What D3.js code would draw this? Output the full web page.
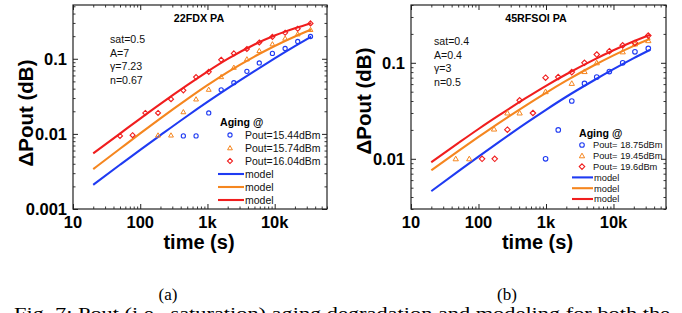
<!DOCTYPE html>
<html>
<head>
<meta charset="utf-8">
<script src="https://cdn.jsdelivr.net/npm/d3@7"></script>
<style>
  html, body { margin: 0; padding: 0; background: #fff; }
  svg { display: block; font-family: "Liberation Sans", Arial, sans-serif; }
</style>
</head>
<body>
<svg id="chart" width="682" height="313"></svg>
<script>
// ---------- Data ----------
const modelTime = [20, 50, 100, 200, 500, 1000, 2000, 5000, 10000, 20000, 35000];

// Panel (a) 22FDX PA
const aTimeBlue   = [438, 677, 1045, 1600, 2470, 3860, 5900, 9250, 14300, 22000, 34100];
const aBlue       = [0.0094, 0.0094, 0.019, 0.0386, 0.048, 0.068, 0.088, 0.118, 0.137, 0.17, 0.198];
const aTimeOrange = [184, 287, 438, 677, 1045, 1600, 2470, 3860, 5900, 9250, 14300, 22000, 34100];
const aOrange     = [0.0096, 0.0096, 0.0196, 0.029, 0.039, 0.0575, 0.0766, 0.099, 0.128, 0.157, 0.187, 0.213, 0.244];
const aTimeRed    = [50, 77, 119, 184, 287, 438, 677, 1045, 1600, 2470, 3860, 5900, 9250, 14300, 22000, 34100];
const aRed        = [0.0094, 0.0096, 0.019, 0.019, 0.029, 0.038, 0.057, 0.067, 0.097, 0.118, 0.135, 0.165, 0.196, 0.222, 0.251, 0.296];
const aModelBlue   = [0.0021, 0.00388, 0.00614, 0.00962, 0.0173, 0.0266, 0.0403, 0.0685, 0.101, 0.147, 0.197];
const aModelOrange = [0.0034, 0.00634, 0.01015, 0.0161, 0.029, 0.0445, 0.0665, 0.107, 0.148, 0.198, 0.245];
const aModelRed    = [0.0055, 0.0101, 0.016, 0.0251, 0.0445, 0.0675, 0.0995, 0.155, 0.204, 0.255, 0.298];
const aLegend = ["Pout=15.44dBm", "Pout=15.74dBm", "Pout=16.04dBm"];
const aParams = ["sat=0.5", "A=7", "\u03B3=7.23", "n=0.67"];

// Panel (b) 45RFSOI PA
const bTimeBlue   = [986, 1520, 2410, 3720, 5650, 8690, 13700, 20800, 32800];
const bBlue       = [0.01, 0.02, 0.04, 0.061, 0.071, 0.081, 0.1, 0.13, 0.141];
const bTimeOrange = [46, 73, 170, 268, 407, 986, 2410, 3720, 5650, 13700, 20800, 32800];
const bOrange     = [0.01, 0.01, 0.0204, 0.030, 0.030, 0.05, 0.061, 0.081, 0.1, 0.13, 0.157, 0.17];
const bTimeRed    = [113, 174, 268, 407, 640, 986, 1520, 2410, 3720, 5650, 8690, 13700, 20800, 32800];
const bRed        = [0.01, 0.01, 0.0201, 0.0407, 0.03, 0.07, 0.071, 0.08, 0.1, 0.122, 0.132, 0.152, 0.161, 0.192];
const bModelBlue   = [0.0046, 0.00741, 0.01055, 0.01493, 0.0234, 0.0324, 0.0443, 0.065, 0.0858, 0.1117, 0.1366];
const bModelOrange = [0.0076, 0.01202, 0.01689, 0.02355, 0.0359, 0.0487, 0.0651, 0.0931, 0.1195, 0.1502, 0.1777];
const bModelRed    = [0.0092, 0.01455, 0.02044, 0.0283, 0.0428, 0.0576, 0.076, 0.1067, 0.135, 0.1675, 0.1958];
const bLegend = ["Pout= 18.75dBm", "Pout= 19.45dBm", "Pout= 19.6dBm"];
const bParams = ["sat=0.4", "A=0.4", "\u03B3=3", "n=0.5"];

const xTickValues = [10, 100, 1000, 10000];
const xTickLabels = ["10", "100", "1k", "10k"];
const aYTickValues = [0.001, 0.01, 0.1];
const aYTickLabels = ["0.001", "0.01", "0.1"];
const bYTickValues = [0.01, 0.1];
const bYTickLabels = ["0.01", "0.1"];

const COLORS = { blue: "#1f3bf2", orange: "#f5861f", red: "#f01e1e" };

// ---------- Drawing ----------
const svg = d3.select("#chart");
svg.append("rect").attr("width", 682).attr("height", 313).attr("fill", "#fff");

function minorTicks(domain) {
  const out = [];
  const lo = Math.floor(Math.log10(domain[0])), hi = Math.ceil(Math.log10(domain[1]));
  for (let e = lo; e <= hi; e++) {
    for (let m = 1; m <= 9; m++) {
      const v = m * Math.pow(10, e);
      if (v >= domain[0] * 0.999 && v <= domain[1] * 1.001) out.push(v);
    }
  }
  return out;
}

function symbol(g, type, x, y, color, s) {
  if (type === "circle") {
    g.append("circle").attr("cx", x).attr("cy", y).attr("r", s)
      .attr("fill", "none").attr("stroke", color).attr("stroke-width", 1.1);
  } else if (type === "triangle") {
    const h = s * 1.15;
    g.append("path").attr("d", `M${x},${y - h}L${x + h},${y + h * 0.75}L${x - h},${y + h * 0.75}Z`)
      .attr("fill", "none").attr("stroke", color).attr("stroke-width", 1.0);
  } else {
    const h = s * 1.2;
    g.append("path").attr("d", `M${x},${y - h}L${x + h},${y}L${x},${y + h}L${x - h},${y}Z`)
      .attr("fill", "none").attr("stroke", color).attr("stroke-width", 1.1);
  }
}

function panel(cfg) {
  const g = svg.append("g");
  const x = d3.scaleLog().domain(cfg.xDomain).range([cfg.left, cfg.right]);
  const y = d3.scaleLog().domain(cfg.yDomain).range([cfg.bottom, cfg.top]);
  const W = cfg.right - cfg.left, H = cfg.bottom - cfg.top;

  // minor ticks
  const xMinor = minorTicks(cfg.xDomain).filter(v => !xTickValues.includes(v));
  const yMinor = minorTicks(cfg.yDomain).filter(v => !cfg.yTickValues.includes(v));
  const axes = [
    [d3.axisBottom(x), `translate(0,${cfg.bottom})`, xMinor],
    [d3.axisTop(x), `translate(0,${cfg.top})`, xMinor],
    [d3.axisLeft(y), `translate(${cfg.left},0)`, yMinor],
    [d3.axisRight(y), `translate(${cfg.right},0)`, yMinor]
  ];
  axes.forEach(([ax, tr, minor]) => {
    const a1 = g.append("g").attr("transform", tr)
      .call(ax.tickValues(minor).tickSize(-2.5).tickFormat(""));
    a1.select(".domain").remove();
    a1.selectAll("line").attr("stroke", "#222").attr("stroke-width", 0.9);
  });
  const majorDefs = [
    [d3.axisBottom(x), `translate(0,${cfg.bottom})`, xTickValues],
    [d3.axisTop(x), `translate(0,${cfg.top})`, xTickValues],
    [d3.axisLeft(y), `translate(${cfg.left},0)`, cfg.yTickValues],
    [d3.axisRight(y), `translate(${cfg.right},0)`, cfg.yTickValues]
  ];
  majorDefs.forEach(([ax, tr, major]) => {
    const a = g.append("g").attr("transform", tr)
      .call(ax.tickValues(major).tickSize(-5).tickFormat(""));
    a.select(".domain").remove();
    a.selectAll("line").attr("stroke", "#222").attr("stroke-width", 1);
  });

  // tick labels
  g.selectAll(".xl").data(xTickValues).enter().append("text")
    .attr("x", d => x(d)).attr("y", cfg.bottom + 18.5)
    .attr("text-anchor", "middle").attr("font-size", 16.5).attr("font-weight", "bold")
    .text((d, i) => xTickLabels[i]);
  g.selectAll(".yl").data(cfg.yTickValues).enter().append("text")
    .attr("x", cfg.left - 6).attr("y", d => y(d) + 6)
    .attr("text-anchor", "end").attr("font-size", 16.5).attr("font-weight", "bold")
    .text((d, i) => cfg.yTickLabels[i]);

  // frame
  g.append("rect").attr("x", cfg.left).attr("y", cfg.top).attr("width", W).attr("height", H)
    .attr("fill", "none").attr("stroke", "#222").attr("stroke-width", 1.2);

  // axis titles
  g.append("text").attr("x", (cfg.left + cfg.right) / 2 - 1).attr("y", cfg.bottom + 40)
    .attr("text-anchor", "middle").attr("font-size", 20).attr("font-weight", "bold")
    .text("time (s)");
  g.append("text")
    .attr("transform", `translate(${cfg.yTitleX},${cfg.yTitleY}) rotate(-90)`)
    .attr("text-anchor", "middle").attr("font-size", 20.5).attr("font-weight", "bold")
    .text("\u0394Pout (dB)");

  // chart title
  g.append("text").attr("x", cfg.titleX).attr("y", cfg.top + 17)
    .attr("text-anchor", "middle").attr("font-size", 10.7).attr("font-weight", "bold")
    .text(cfg.title);

  // parameters
  cfg.params.forEach((p, i) => {
    g.append("text").attr("x", cfg.paramX).attr("y", cfg.paramY + i * 13.7)
      .attr("font-size", 10.6).attr("fill", "#111").text(p);
  });

  // model lines
  const line = d3.line().x(d => x(d[0])).y(d => y(d[1])).curve(d3.curveMonotoneX);
  const models = [[cfg.modelBlue, COLORS.blue], [cfg.modelOrange, COLORS.orange], [cfg.modelRed, COLORS.red]];
  models.forEach(([vals, c]) => {
    g.append("path").datum(modelTime.map((t, i) => [t, vals[i]]))
      .attr("d", line).attr("fill", "none").attr("stroke", c).attr("stroke-width", 2.1);
  });

  // data points
  const series = [
    [cfg.tBlue, cfg.vBlue, COLORS.blue, "circle"],
    [cfg.tOrange, cfg.vOrange, COLORS.orange, "triangle"],
    [cfg.tRed, cfg.vRed, COLORS.red, "diamond"]
  ];
  series.forEach(([ts, vs, c, type]) => {
    ts.forEach((t, i) => symbol(g, type, x(t), y(vs[i]), c, cfg.markerSize));
  });

  // legend
  const L = cfg.legend;
  g.append("text").attr("x", L.x).attr("y", L.y).attr("font-size", 10.6)
    .attr("font-weight", "bold").text("Aging @");
  const types = ["circle", "triangle", "diamond"];
  const cols = [COLORS.blue, COLORS.orange, COLORS.red];
  cfg.legendLabels.forEach((lab, i) => {
    const yy = L.y + L.dy0 + i * L.dy;
    symbol(g, types[i], L.symX, yy, cols[i], cfg.markerSize);
    g.append("text").attr("x", L.textX).attr("y", yy + L.fs * 0.36)
      .attr("font-size", L.fs).attr("fill", "#111").text(lab);
  });
  cols.forEach((c, i) => {
    const yy = L.y + L.dy0 + (3 + i) * L.dy;
    g.append("line").attr("x1", L.lineX1).attr("x2", L.lineX2).attr("y1", yy).attr("y2", yy)
      .attr("stroke", c).attr("stroke-width", 2.1);
    g.append("text").attr("x", L.lineX2 + 1).attr("y", yy + L.fs * 0.36)
      .attr("font-size", L.fs).attr("fill", "#111").text("model");
  });

  // caption
  svg.append("text").attr("x", cfg.capX).attr("y", 300).attr("text-anchor", "middle")
    .attr("font-family", "'Liberation Serif', 'Times New Roman', serif")
    .attr("font-size", 17).text(cfg.caption);
}

panel({
  left: 73, right: 327, top: 5, bottom: 209,
  xDomain: [10, 60000], yDomain: [0.001, 0.52],
  yTickValues: aYTickValues, yTickLabels: aYTickLabels,
  yTitleX: 33, yTitleY: 113,
  title: "22FDX PA", titleX: 199,
  params: aParams, paramX: 110, paramY: 43,
  tBlue: aTimeBlue, vBlue: aBlue, tOrange: aTimeOrange, vOrange: aOrange, tRed: aTimeRed, vRed: aRed,
  modelBlue: aModelBlue, modelOrange: aModelOrange, modelRed: aModelRed,
  markerSize: 2.1,
  legendLabels: aLegend,
  legend: { x: 220, y: 126, dy0: 9, dy: 13, symX: 230, textX: 245, lineX1: 218, lineX2: 244, fs: 10.5 },
  caption: "(a)", capX: 168
});

panel({
  left: 411, right: 666, top: 5, bottom: 209,
  xDomain: [10, 60000], yDomain: [0.003, 0.4],
  yTickValues: bYTickValues, yTickLabels: bYTickLabels,
  yTitleX: 371, yTitleY: 101,
  title: "45RFSOI PA", titleX: 536,
  params: bParams, paramX: 434, paramY: 45,
  tBlue: bTimeBlue, vBlue: bBlue, tOrange: bTimeOrange, vOrange: bOrange, tRed: bTimeRed, vRed: bRed,
  modelBlue: bModelBlue, modelOrange: bModelOrange, modelRed: bModelRed,
  markerSize: 2.3,
  legendLabels: bLegend,
  legend: { x: 579, y: 137, dy0: 8, dy: 10.8, symX: 582, textX: 593, lineX1: 572, lineX2: 593, fs: 9.3 },
  caption: "(b)", capX: 507
});

// bottom (cut-off) figure caption line
svg.append("text").attr("x", 14).attr("y", 319)
  .attr("font-family", "'Liberation Serif', 'Times New Roman', serif")
  .attr("font-size", 16).attr("textLength", 656).attr("lengthAdjust", "spacingAndGlyphs")
  .text("Fig. 7:  Pout (i.e., saturation) aging degradation and modeling for both the");
</script>
</body>
</html>
